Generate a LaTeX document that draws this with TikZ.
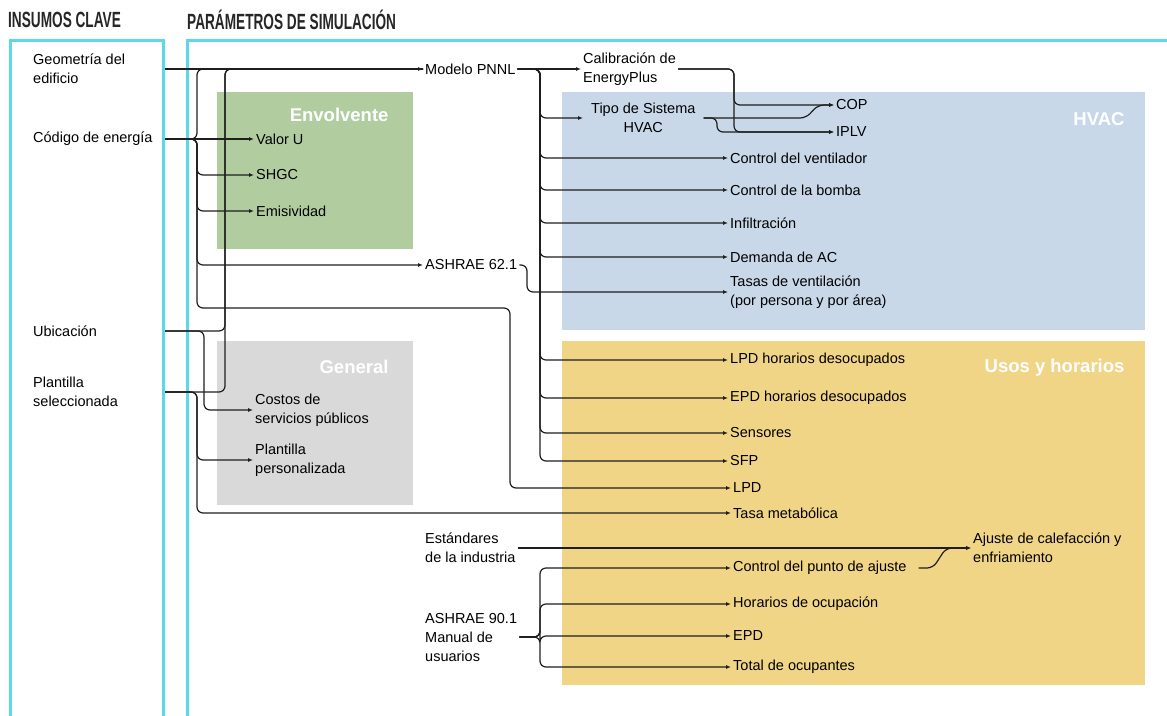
\documentclass[tikz,border=0pt]{standalone}
\usepackage{fontspec}
\setmainfont{Liberation Sans}
\newfontfamily\headfont[FakeStretch=0.62]{Liberation Sans}
\usetikzlibrary{arrows.meta,calc}
\definecolor{frame_cyan}{RGB}{92,216,230}
\definecolor{env_green}{RGB}{177,205,160}
\definecolor{gen_gray}{RGB}{217,217,217}
\definecolor{hvac_blue}{RGB}{201,216,233}
\definecolor{use_yellow}{RGB}{241,213,135}
\definecolor{wire_gray}{RGB}{30,30,30}

\begin{document}
\begin{tikzpicture}[x=1pt,y=-1pt,
  font=\fontsize{14.5}{19}\selectfont,
  lbl/.style={anchor=west,align=left,inner sep=2pt},
  boxtitle/.style={anchor=east,text=white,font=\fontsize{18.5}{22}\selectfont\bfseries},
  head/.style={anchor=west,inner sep=0pt,text=black!85,font=\headfont\bfseries\fontsize{22}{22}\selectfont},
  wire/.style={draw=wire_gray,line width=1.2pt,rounded corners=6pt},
  arr/.style={wire,-{Latex[length=5pt,width=4pt]}}]
        \useasboundingbox (0,0) rectangle (1167,715);
        \node[head] (hIns) at (8,20) {INSUMOS CLAVE};
        \node[head] (hPar) at (187,20) {PARÁMETROS DE SIMULACIÓN};
        \draw[frame_cyan,line width=3pt] (10,716) |- (163,40) -- (163,716);
        \draw[frame_cyan,line width=3pt] (187,716) |- (1170,40);
        \fill[env_green] (217,92) rectangle (413,249);
        \fill[gen_gray] (217,341) rectangle (413,505);
        \fill[hvac_blue] (562,92) rectangle (1145,330);
        \fill[use_yellow] (562,341) rectangle (1145,685);
        \node[boxtitle] (tEnv) at (392,115) {Envolvente};
        \node[boxtitle] (tGen) at (392,367) {General};
        \node[boxtitle] (tHvac) at (1128,119) {HVAC};
        \node[boxtitle] (tUse) at (1128,368) {Usos y horarios};
        % insumos
        \node[lbl] (geo) at (31,69) {Geometría del\\edificio};
        \node[lbl] (cod) at (31,139) {Código de energía};
        \node[lbl] (ubi) at (31,331) {Ubicación};
        \node[lbl] (pla) at (31,392) {Plantilla\\seleccionada};
        % parametros
        \node[lbl] (pnnl) at (423,69) {Modelo PNNL};
        \node[lbl] (cal) at (581,69) {Calibración de\\EnergyPlus};
        \node[lbl,align=center,inner xsep=8pt] (tipo) at (583,118) {Tipo de Sistema\\HVAC};
        \node[lbl] (cop) at (834,105) {COP};
        \node[lbl] (iplv) at (834,132) {IPLV};
        \node[lbl] (fan) at (728,158) {Control del ventilador};
        \node[lbl] (pump) at (728,190) {Control de la bomba};
        \node[lbl] (inf) at (728,223) {Infiltración};
        \node[lbl] (dem) at (728,257) {Demanda de AC};
        \node[lbl] (vent) at (728,292) {Tasas de ventilación\\(por persona y por área)};
        \node[lbl] (valu) at (254,139) {Valor U};
        \node[lbl] (shgc) at (254,175) {SHGC};
        \node[lbl] (emi) at (254,211) {Emisividad};
        \node[lbl] (ash62) at (423,265) {ASHRAE 62.1};
        \node[lbl] (cost) at (253,410) {Costos de\\servicios públicos};
        \node[lbl] (cust) at (253,460) {Plantilla\\personalizada};
        \node[lbl] (lpdu) at (728,360) {LPD horarios desocupados};
        \node[lbl] (epdu) at (728,398) {EPD horarios desocupados};
        \node[lbl] (sens) at (728,433) {Sensores};
        \node[lbl] (sfp) at (728,461) {SFP};
        \node[lbl] (lpd) at (731,488) {LPD};
        \node[lbl] (meta) at (731,513) {Tasa metabólica};
        \node[lbl] (std) at (423,548) {Estándares\\de la industria};
        \node[lbl] (heat) at (971,548) {Ajuste de calefacción y\\enfriamiento};
        \node[lbl] (setp) at (731,568) {Control del punto de ajuste};
        \node[lbl] (occ) at (731,604) {Horarios de ocupación};
        \node[lbl] (epd) at (731,636) {EPD};
        \node[lbl] (tot) at (731,667) {Total de ocupantes};
        \node[lbl] (a90) at (423,637) {ASHRAE 90.1\\Manual de\\usuarios};
        % buses
        \coordinate (edgeL) at (165,0);
        \coordinate (busCod) at (197,0);
        \coordinate (busUbi) at (204,0);
        \coordinate (busUp) at (225,0);
        \coordinate (busLpd) at (510,0);
        \coordinate (bus62) at (527,0);
        \coordinate (busPNNL) at (540,0);
        \coordinate (busTipoC) at (717,0);
        \coordinate (busCal) at (734,0);
        \coordinate (busTipoA) at (806,0);
        \coordinate (busTipoB) at (818,0);
        \coordinate (busSetA) at (933,0);
        \coordinate (busSetB) at (946,0);
        \coordinate (lpdRow) at (0,308);
        % conectores
        \draw[arr] (geo.east -| edgeL) -- (pnnl.west);
        \draw[arr] (cod.east -| edgeL) -- (valu.west);
        \draw[wire] (cod.east -| edgeL) -| (busCod |- pnnl.west) -- (pnnl.west);
        \foreach \tgt in {shgc,emi,ash62}
          \draw[arr] (cod.east -| edgeL) -| (busCod |- \tgt.west) -- (\tgt.west);
        \draw[arr] (cod.east -| edgeL) -| (busCod |- lpdRow) -| (busLpd |- lpd.west) -- (lpd.west);
        \draw[wire] (ubi.east -| edgeL) -| (busUp |- pnnl.west) -- (pnnl.west);
        \draw[arr] (ubi.east -| edgeL) -| (busUbi |- cost.west) -- (cost.west);
        \draw[wire] (pla.east -| edgeL) -| (busUp |- pnnl.west) -- (pnnl.west);
        \foreach \tgt in {cust,meta}
          \draw[arr] (pla.east -| edgeL) -| (busCod |- \tgt.west) -- (\tgt.west);
        \draw[arr] (pnnl.east) -- (cal.west);
        \foreach \tgt in {tipo,fan,pump,inf,dem,lpdu,epdu,sens,sfp}
          \draw[arr] (pnnl.east) -| (busPNNL |- \tgt.west) -- (\tgt.west);
        \foreach \tgt in {cop,iplv}
          \draw[arr] (cal.east) -| (busCal |- \tgt.west) -- (\tgt.west);
        \draw[arr] (tipo.east) -- (busTipoA |- tipo.east) -- (busTipoB |- cop.west) -- (cop.west);
        \draw[arr] (tipo.east) -| (busTipoC |- iplv.west) -- (iplv.west);
        \draw[arr] (ash62.east) -| (bus62 |- vent.west) -- (vent.west);
        \draw[arr] (std.east) -- (heat.west);
        \draw[arr] ([xshift=10pt]setp.east) -- (busSetA |- setp.east) -- (busSetB |- heat.west) -- (heat.west);
        \foreach \tgt in {setp,occ,epd,tot}
          \draw[arr] (a90.east) -| (busPNNL |- \tgt.west) -- (\tgt.west);
      \end{tikzpicture}
\end{document}
